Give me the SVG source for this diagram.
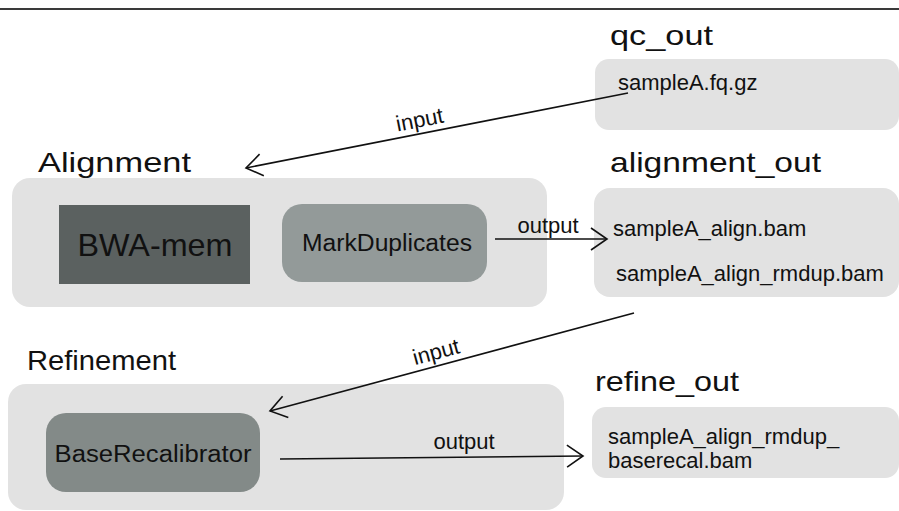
<svg xmlns="http://www.w3.org/2000/svg" width="899" height="511" viewBox="0 0 899 511">
<style>
text{font-family:"Liberation Sans",Arial,sans-serif;fill:#111}
.title{font-size:28px}
.file{font-size:22px}
.lbl{font-size:22px}
.group{fill:#e2e2e2}
.conn{stroke:#111;stroke-width:1.6;fill:none}
</style>
<defs>
<marker id="arr" markerUnits="userSpaceOnUse" markerWidth="40" markerHeight="40" refX="0" refY="0" viewBox="-20 -20 40 40" orient="auto">
<path d="M-16,-11 L0,0 L-16,11" fill="none" stroke="#111" stroke-width="1.6"/>
</marker>
</defs>
<rect width="899" height="511" fill="#ffffff"/>
<line x1="0" y1="9" x2="899" y2="9" stroke="#3a3a3a" stroke-width="2"/>
<g id="qc_out">
<text class="title" x="610" y="45" textLength="103" lengthAdjust="spacingAndGlyphs">qc_out</text>
<rect class="group" x="595" y="59" width="304" height="71" rx="14"/>
<text class="file" x="618" y="90">sampleA.fq.gz</text>
</g>
<g id="alignment">
<text class="title" x="38" y="172" textLength="153" lengthAdjust="spacingAndGlyphs">Alignment</text>
<rect class="group" x="12" y="178" width="535" height="129" rx="18"/>
</g>
<g id="bwa_mem">
<rect x="59" y="205" width="191" height="79" fill="#5b6160"/>
<text x="155" y="256" font-size="32" text-anchor="middle" textLength="155" lengthAdjust="spacingAndGlyphs">BWA-mem</text>
</g>
<g id="markduplicates">
<rect x="282" y="204" width="205" height="78" rx="20" fill="#939a99"/>
<text x="387" y="251" font-size="23" text-anchor="middle" textLength="170" lengthAdjust="spacingAndGlyphs">MarkDuplicates</text>
</g>
<g id="alignment_out">
<text class="title" x="610" y="172" textLength="211" lengthAdjust="spacingAndGlyphs">alignment_out</text>
<rect class="group" x="594" y="188" width="305" height="109" rx="16"/>
<text class="file" x="613" y="236">sampleA_align.bam</text>
<text class="file" x="616" y="281">sampleA_align_rmdup.bam</text>
</g>
<g id="refinement">
<text class="title" x="27" y="370" textLength="149" lengthAdjust="spacingAndGlyphs">Refinement</text>
<rect class="group" x="8" y="384" width="556" height="126" rx="18"/>
</g>
<g id="baserecalibrator">
<rect x="46" y="413" width="214" height="79" rx="20" fill="#838a88"/>
<text x="153" y="462" font-size="23" text-anchor="middle" textLength="197" lengthAdjust="spacingAndGlyphs">BaseRecalibrator</text>
</g>
<g id="refine_out">
<text class="title" x="595" y="391" textLength="144" lengthAdjust="spacingAndGlyphs">refine_out</text>
<rect class="group" x="592" y="407" width="307" height="71" rx="14"/>
<text class="file" x="608" y="444">sampleA_align_rmdup_</text>
<text class="file" x="608" y="468">baserecal.bam</text>
</g>
<g id="connectors">
<line class="conn" x1="628" y1="93" x2="246" y2="168" marker-end="url(#arr)"/>
<text class="lbl" x="421" y="127" text-anchor="middle" transform="rotate(-11.1 421 127)">input</text>
<line class="conn" x1="495" y1="239" x2="607" y2="239" marker-end="url(#arr)"/>
<text class="lbl" x="548" y="233" text-anchor="middle">output</text>
<line class="conn" x1="634" y1="313" x2="270" y2="411" marker-end="url(#arr)"/>
<text class="lbl" x="438" y="359" text-anchor="middle" transform="rotate(-15.1 438 359)">input</text>
<line class="conn" x1="280" y1="459" x2="583" y2="456" marker-end="url(#arr)"/>
<text class="lbl" x="464" y="449" text-anchor="middle">output</text>
</g>
</svg>
